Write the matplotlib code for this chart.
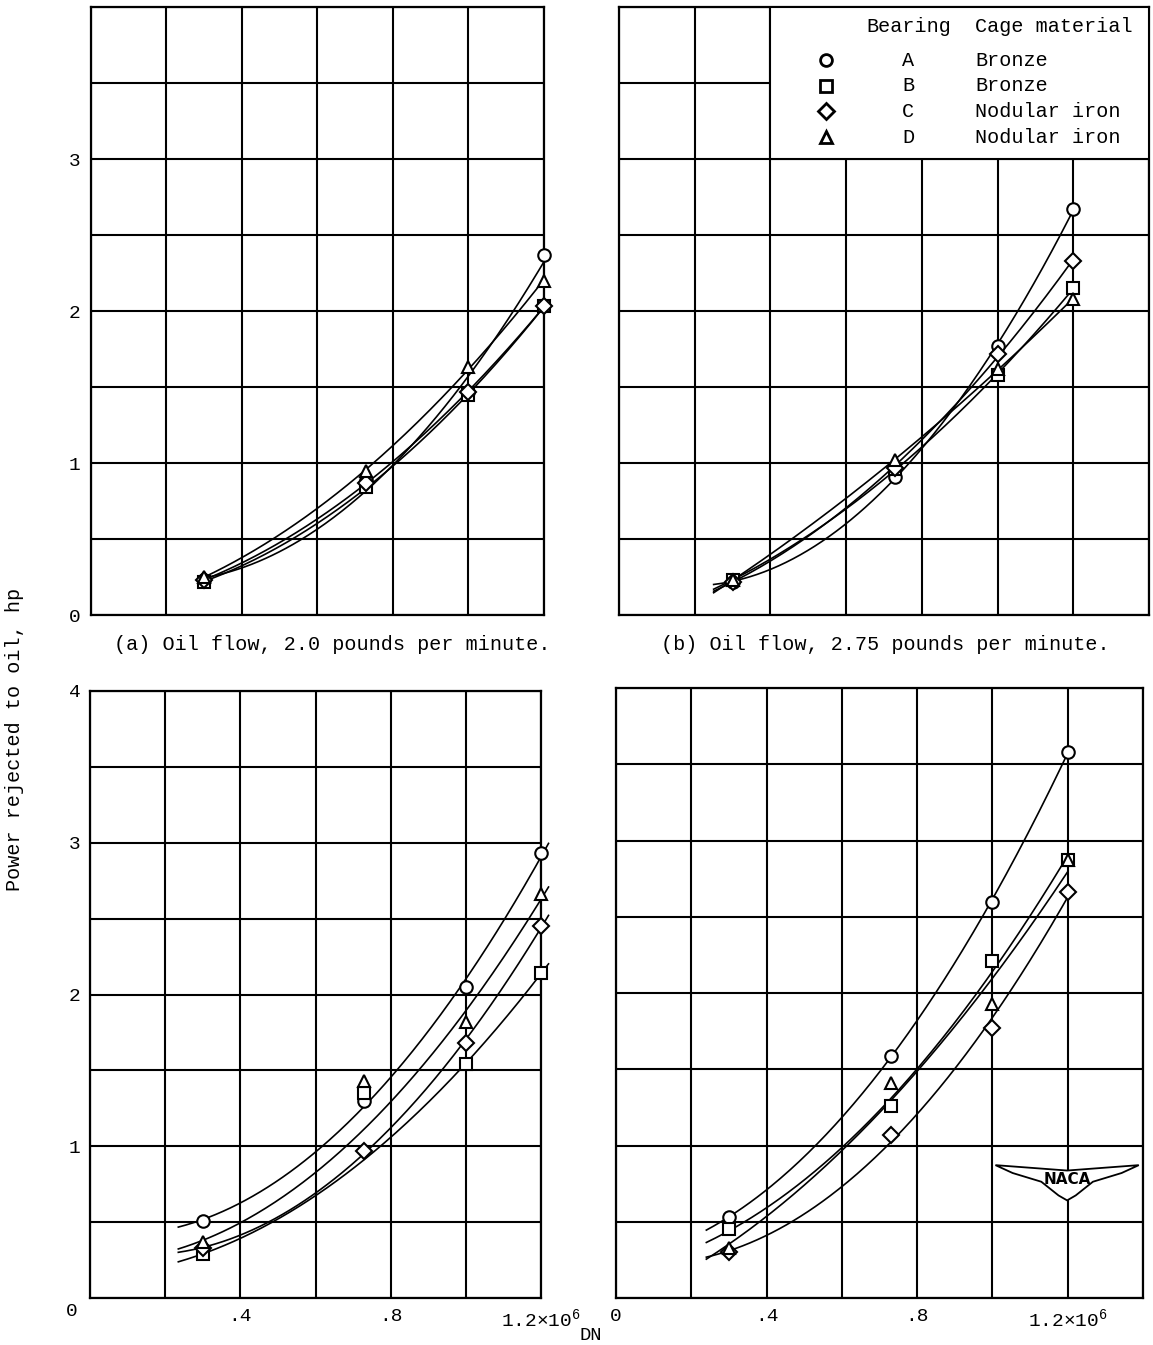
"""
Power rejected to oil vs DN for four bearings at four oil flows (NACA style).
"""

import matplotlib.pyplot as plt
import numpy as np
from matplotlib.patches import Rectangle, Polygon

plt.rcParams["font.family"] = ["Liberation Mono", "DejaVu Sans Mono"]
plt.rcParams["mathtext.default"] = "regular"

# ── data: DN in units of 10^6, power rejected to oil in hp ──────────────────
dn = [0.30, 0.73, 1.00, 1.20]

bearings = ["A", "B", "C", "D"]
cage_materials = ["Bronze", "Bronze", "Nodular iron", "Nodular iron"]

# (a) oil flow 2.0 lb/min
pa_A = [0.23, 0.89, 1.47, 2.37]
pa_B = [0.22, 0.84, 1.45, 2.03]
pa_C = [0.23, 0.87, 1.47, 2.03]
pa_D = [0.25, 0.95, 1.63, 2.20]

# (b) oil flow 2.75 lb/min
pb_A = [0.22, 0.91, 1.77, 2.67]
pb_B = [0.23, 0.96, 1.58, 2.15]
pb_C = [0.22, 0.97, 1.72, 2.33]
pb_D = [0.23, 1.02, 1.62, 2.08]

# (c) lower left panel
pc_A = [0.51, 1.30, 2.05, 2.93]
pc_B = [0.29, 1.35, 1.54, 2.14]
pc_C = [0.33, 0.97, 1.68, 2.45]
pc_D = [0.37, 1.43, 1.82, 2.66]

# (d) lower right panel
pd_A = [0.53, 1.59, 2.60, 3.58]
pd_B = [0.45, 1.26, 2.21, 2.87]
pd_C = [0.30, 1.07, 1.77, 2.66]
pd_D = [0.33, 1.41, 1.93, 2.87]

captions = [
    "(a) Oil flow, 2.0 pounds per minute.",
    "(b) Oil flow, 2.75 pounds per minute.",
]

# fairing: the drawn curves ignore a couple of scattered mid-speed points
FAIR_WEIGHTS = {("c", "B"): [1, 0.1, 1, 1], ("c", "D"): [1, 0.4, 1, 1]}

# ── style ──────────────────────────────────────────────────────────────────
MARKERS = {"A": ("o", 9), "B": ("s", 8.5), "C": ("D", 8.5), "D": ("^", 9)}
FS = 14.5
W, H = 1153, 1345


def px_axes(left, top, right, bottom):
    return [left / W, 1 - bottom / H, (right - left) / W, (bottom - top) / H]


def draw_panel(ax, name, series, xmax, fit_from, fit_to=1.2):
    ax.set_xlim(0, xmax)
    ax.set_ylim(0, 4)
    ax.set_xticks(np.arange(0, xmax + 0.01, 0.2))
    ax.set_yticks(np.arange(0, 4.01, 0.5))
    ax.set_xticklabels([])
    ax.set_yticklabels([])
    ax.tick_params(length=0, labelsize=FS - 0.5, pad=7)
    ax.set_axisbelow(True)
    ax.grid(True, color="black", linewidth=1.5)
    for s in ax.spines.values():
        s.set_linewidth(1.6)

    for key, vals in zip(bearings, series):
        # faired curve: least-squares quadratic through the test points
        w = FAIR_WEIGHTS.get((name, key), [1, 1, 1, 1])
        coef = np.polyfit(dn, vals, 2, w=w)
        xs = np.linspace(fit_from, fit_to, 200)
        ax.plot(xs, np.polyval(coef, xs), color="black", linewidth=1.2,
                zorder=2, clip_on=False)
        m, ms = MARKERS[key]
        ax.plot(dn, vals, linestyle="none", marker=m, markersize=ms,
                markerfacecolor="white", markeredgecolor="black",
                markeredgewidth=1.5, zorder=4, clip_on=False)


fig = plt.figure(figsize=(W / 100, H / 100), dpi=100)

ax_a = fig.add_axes(px_axes(90.5, 7, 544, 615))
ax_b = fig.add_axes(px_axes(619, 7, 1149, 615))
ax_c = fig.add_axes(px_axes(90, 691, 541, 1298))
ax_d = fig.add_axes(px_axes(616, 688, 1143, 1298))

draw_panel(ax_a, "a", [pa_A, pa_B, pa_C, pa_D], 1.2, 0.30)
draw_panel(ax_b, "b", [pb_A, pb_B, pb_C, pb_D], 1.4, 0.25)
draw_panel(ax_c, "c", [pc_A, pc_B, pc_C, pc_D], 1.2, 0.235, 1.22)
draw_panel(ax_d, "d", [pd_A, pd_B, pd_C, pd_D], 1.4, 0.24)

# tick labels
ax_a.set_yticklabels(["0", "", "1", "", "2", "", "3", "", ""])
ax_c.set_yticklabels(["", "", "1", "", "2", "", "3", "", "4"])
x_lab = ["", "", ".4", "", ".8", "", "1.2\u00d710$^{6}$"]
ax_c.set_xticklabels(x_lab)
ax_d.set_xticklabels(["0"] + x_lab[1:] + [""])
ax_c.text(-0.04, -0.022, "0", transform=ax_c.transAxes, ha="center", va="center",
          fontsize=FS - 0.5)

# captions and axis titles
fig.text(332 / W, 1 - 645 / H, captions[0], ha="center", va="center", fontsize=FS)
fig.text(885 / W, 1 - 645 / H, captions[1], ha="center", va="center", fontsize=FS)
fig.text(15 / W, 1 - 739 / H, "Power rejected to oil, hp", rotation=90,
         ha="center", va="center", fontsize=FS)
fig.text(591 / W, 1 - 1335 / H, "DN", ha="center", va="center", fontsize=FS - 1)

# key in panel (b): boxed table over the upper grid cells
ax_b.add_patch(Rectangle((0.4, 3.0), 1.0, 1.0, facecolor="white",
                         edgecolor="black", linewidth=1.5, zorder=3))


def bx(px):
    return (px - 619) / 530


def by(py):
    return (615 - py) / 608


ax_b.text(bx(909), by(27), "Bearing", transform=ax_b.transAxes, ha="center",
          va="center", fontsize=FS, zorder=5)
ax_b.text(bx(975), by(27), "Cage material", transform=ax_b.transAxes, ha="left",
          va="center", fontsize=FS, zorder=5)
for i, (key, mat) in enumerate(zip(bearings, cage_materials)):
    ry = by(60 + i * 25.7)
    m, ms = MARKERS[key]
    ax_b.plot([bx(826)], [ry], transform=ax_b.transAxes, linestyle="none",
              marker=m, markersize=ms - 0.5, markerfacecolor="white",
              markeredgecolor="black", markeredgewidth=2.0, zorder=5,
              clip_on=False)
    ax_b.text(bx(908), ry, key, transform=ax_b.transAxes, ha="center",
              va="center", fontsize=FS, zorder=5)
    ax_b.text(bx(975), ry, mat, transform=ax_b.transAxes, ha="left",
              va="center", fontsize=FS, zorder=5)

# NACA wing badge, lower right
x0, x1, y0, y1 = 0.72, 0.992, 0.16, 0.228
outline = [(0.0, 0.85), (0.5, 0.72), (1.0, 0.85), (0.88, 0.66), (0.68, 0.45),
           (0.56, 0.12), (0.5, 0.0), (0.44, 0.12), (0.32, 0.45), (0.12, 0.66)]
badge = Polygon([(x0 + u * (x1 - x0), y0 + v * (y1 - y0)) for u, v in outline],
                closed=True, transform=ax_d.transAxes, facecolor="white",
                edgecolor="black", linewidth=1.3, zorder=5)
ax_d.add_patch(badge)
ax_d.text((x0 + x1) / 2, y0 + 0.5 * (y1 - y0), "NACA", transform=ax_d.transAxes,
          ha="center", va="center", fontsize=11, fontweight="bold",
          family="DejaVu Sans", zorder=6)

fig.savefig("out.png", dpi=100)
